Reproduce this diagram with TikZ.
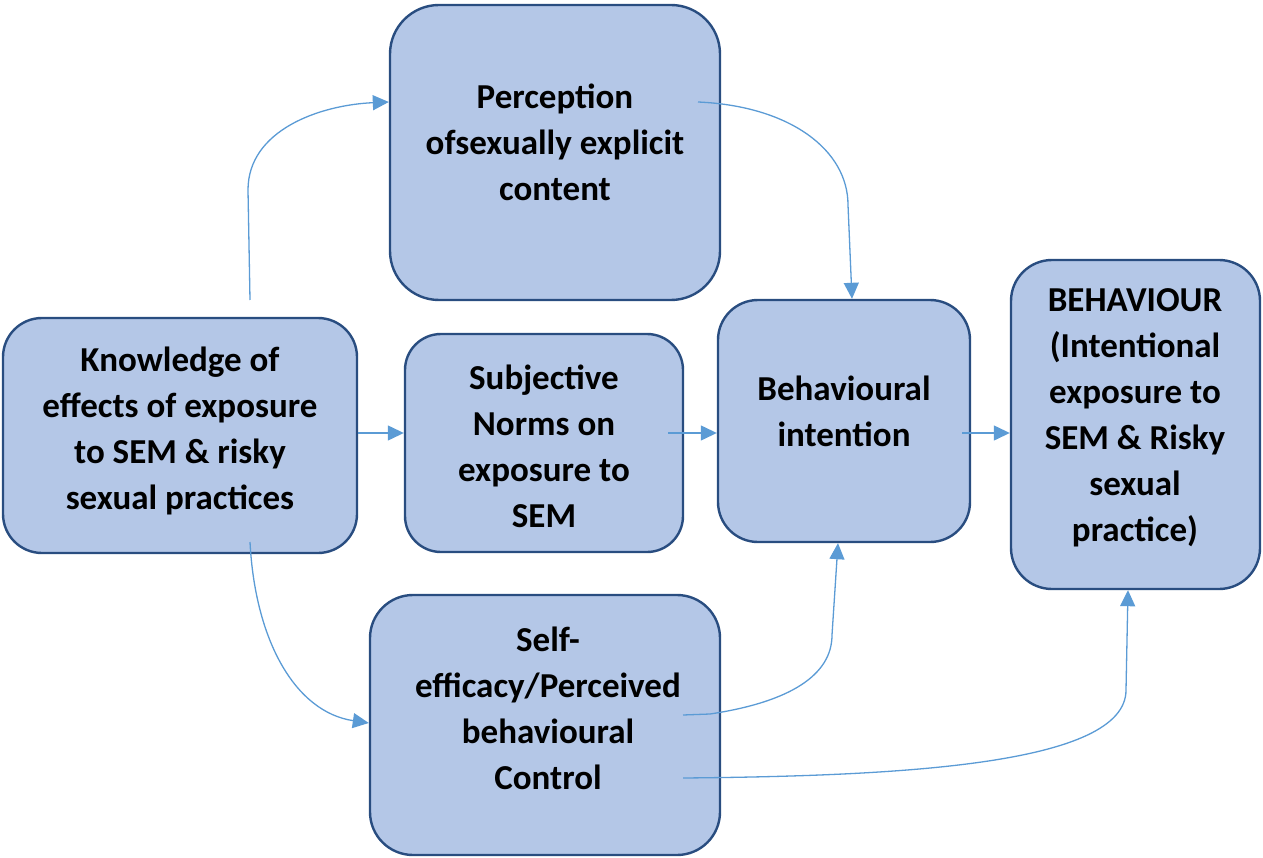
\documentclass[tikz,border=0pt]{standalone}
\usepackage{fontspec}
\setmainfont{Carlito}
\usetikzlibrary{arrows.meta}
\definecolor{boxfill}{RGB}{180,199,231}
\definecolor{boxline}{RGB}{41,77,128}
\definecolor{arrowc}{RGB}{91,155,213}
\tikzset{
  box/.style={draw=boxline, fill=boxfill, line width=2.4pt, minimum width=#1},
  txt/.style={align=center, font=\fontsize{35}{46}\selectfont\bfseries, inner sep=0pt},
  conn/.style={draw=arrowc, line width=1.3pt, -{Triangle[length=16pt,width=15pt]}}
}
\begin{document}
\begin{tikzpicture}[x=1pt,y=-1pt]
\useasboundingbox (0,0) rectangle (1263,858);
% boxes
\node[box=330pt, minimum height=295pt, rounded corners=49pt] (per) at (555,152.5) {};
\node[box=354pt, minimum height=235pt, rounded corners=39pt] (kno) at (180,435.5) {};
\node[box=278pt, minimum height=218pt, rounded corners=36pt] (sub) at (544,443) {};
\node[box=252pt, minimum height=242pt, rounded corners=40pt] (bi) at (844,421) {};
\node[box=249pt, minimum height=329pt, rounded corners=41pt] (beh) at (1135.5,424.5) {};
\node[box=350pt, minimum height=260pt, rounded corners=43pt] (sel) at (545,725) {};
% texts
\node[txt] (perT) at (555,142) {Perception\\ofsexually explicit\\content};
\node[txt] (knoT) at (180,431) {Knowledge of\\effects of exposure\\to SEM \& risky\\sexual practices};
\node[txt] (subT) at (544,446) {Subjective\\Norms on\\exposure to\\SEM};
\node[txt] (biT) at (844,411) {Behavioural\\intention};
\node[txt] (behT) at (1135,418) {BEHAVIOUR\\(Intentional\\exposure to\\SEM \& Risky\\sexual\\practice)};
\node[txt] (selT) at (548,708) {Self-\\efficacy/Perceived\\behavioural\\Control};
% coordinates
\coordinate (k1) at (250,300);
\coordinate (p1) at (698,102);
\coordinate (s1) at (668,433);
\coordinate (b1) at (962,433);
\coordinate (k2) at (250,542);
\coordinate (e1) at (683,715);
\coordinate (e2) at (683,778);
% connectors
\draw[conn] (k1) -- (248,190) .. controls (248,130) and (320,105) .. (per.west |- 0,102);
\draw[conn] (p1) .. controls (790,106) and (848,150) .. (848,205) -- (bi.north -| 852,0);
\draw[conn] (kno.east |- 0,433) -- (sub.west |- 0,433);
\draw[conn] (s1) -- (bi.west |- 0,433);
\draw[conn] (b1) -- (beh.west |- 0,433);
\draw[conn] (k2) .. controls (255,640) and (295,712) .. (sel.west |- 0,723);
\draw[conn] (e1) -- (710,714) .. controls (790,702) and (832,675) .. (832,635) -- (bi.south -| 838,0);
\draw[conn] (e2) .. controls (900,776) and (1126,765) .. (1126,690) -- (beh.south -| 1128,0);
\end{tikzpicture}
\end{document}
